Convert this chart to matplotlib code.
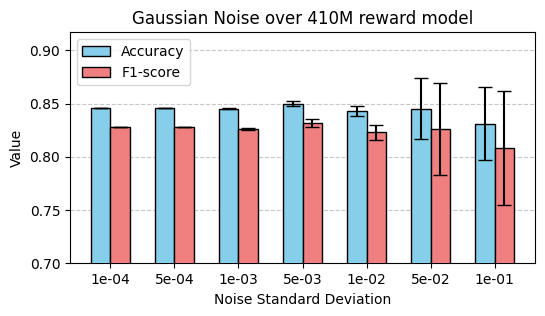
import matplotlib
matplotlib.use("Agg")
import matplotlib.pyplot as plt
import numpy as np

noise_labels = ["1e-04", "5e-04", "1e-03", "5e-03", "1e-02", "5e-02", "1e-01"]
acc_mean = [0.846, 0.846, 0.845, 0.850, 0.843, 0.845, 0.831]
acc_std = [0.0002, 0.0002, 0.0005, 0.0023, 0.0045, 0.0286, 0.0343]
f1_mean = [0.828, 0.828, 0.826, 0.832, 0.823, 0.826, 0.808]
f1_std = [0.0002, 0.0002, 0.001, 0.0039, 0.0069, 0.0435, 0.0534]


def main() -> None:
    x = np.arange(len(noise_labels))
    width = 0.3
    fig, ax = plt.subplots(figsize=(5.45, 3.16), dpi=100)
    ax.bar(x - width / 2, acc_mean, width, yerr=acc_std, capsize=5,
           color="skyblue", edgecolor="black", label="Accuracy", zorder=3)
    ax.bar(x + width / 2, f1_mean, width, yerr=f1_std, capsize=5,
           color="lightcoral", edgecolor="black", label="F1-score", zorder=3)
    ax.set_xticks(x)
    ax.set_xticklabels(noise_labels)
    ax.set_ylim(0.70, 0.917)
    ax.set_xlabel("Noise Standard Deviation")
    ax.set_ylabel("Value")
    ax.set_title("Gaussian Noise over 410M reward model")
    ax.grid(axis="y", linestyle="--", alpha=0.7, zorder=0)
    ax.legend(loc="upper left")
    fig.subplots_adjust(left=0.1284, right=0.9817, top=0.8978, bottom=0.1668)
    fig.savefig("out.png", dpi=100)
    plt.close(fig)


if __name__ == "__main__":
    main()
